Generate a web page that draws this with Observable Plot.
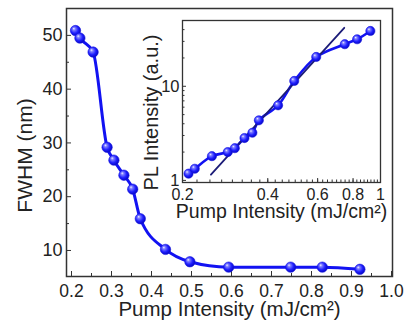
<!DOCTYPE html>
<html><head><meta charset="utf-8">
<script src="https://cdn.jsdelivr.net/npm/d3@7"></script>
<script src="https://cdn.jsdelivr.net/npm/@observablehq/plot@0.6"></script>
<style>
body{margin:0;background:#fff;}
#wrap{position:relative;width:408px;height:324px;}
#wrap > svg{position:absolute;left:0;top:0;}
</style></head><body>
<svg width="0" height="0" style="position:absolute">
<defs>
<radialGradient id="ball" cx="0.45" cy="0.45" r="0.6" fx="0.33" fy="0.3">
<stop offset="0" stop-color="#f4f4ff"/>
<stop offset="0.22" stop-color="#8080ff"/>
<stop offset="0.6" stop-color="#2020ff"/>
<stop offset="1" stop-color="#0000b8"/>
</radialGradient></defs></svg>
<div id="wrap"></div>
<script>
// Data
const pump = [0.21,0.221,0.254,0.289,0.306,0.331,0.353,0.372,0.435,0.496,0.593,0.748,0.827,0.921];
const fwhm = [50.9,49.5,46.9,29.2,26.8,24.0,21.4,15.9,10.2,7.9,6.9,6.9,6.9,6.5];
const plIntensity = [1.18,1.33,1.81,2.0,2.2,2.82,3.21,4.35,6.28,11.4,20.5,28.0,31.6,38.7];
const fitX = [0.252,0.745];
const fitY = [1.15,41.8];
const mainXTicks = [0.2,0.3,0.4,0.5,0.6,0.7,0.8,0.9,1.0];
const mainXMinor = [0.25,0.35,0.45,0.55,0.65,0.75,0.85,0.95];
const mainYTicks = [10,20,30,40,50];
const mainYMinor = [15,25,35,45];
const insetXTicks = [0.2,0.4,0.6,0.8,1];
const insetXMinor = d3.range(0.225,1.0,0.025);
const insetYTicks = [1,10];
const insetYMinor = [2,3,4,5,6,7,8,9,20,30,40,50];
const xLabel = "Pump Intensity (mJ/cm²)";
const yLabelMain = "FWHM (nm)";
const yLabelInset = "PL Intensity (a.u.)";

const font = "'Liberation Sans', Arial, sans-serif";
const ink = "#222";
const blue = "#1212f2";
const wrap = document.getElementById("wrap");

const main = Plot.plot({
  width:408, height:324, marginLeft:66, marginRight:16, marginTop:8, marginBottom:48,
  style:{fontFamily:font, color:ink, background:"transparent", overflow:"visible"},
  x:{domain:[0.1875,1.0025], label:null},
  y:{domain:[5.16,55], label:null},
  marks:[
    Plot.axisX({ticks:mainXMinor, tickSize:3, insetBottom:3, tickFormat:()=>"", stroke:"#333"}),
    Plot.axisX({ticks:mainXTicks, tickSize:5, insetBottom:5, tickFormat:()=>"", stroke:"#333"}),
    Plot.axisX({ticks:mainXTicks, tickSize:0, tickPadding:8, tickFormat:d=>d.toFixed(1), fontSize:17.5, fill:ink}),
    Plot.axisY({ticks:mainYMinor, tickSize:3, insetLeft:3, tickFormat:()=>"", stroke:"#333"}),
    Plot.axisY({ticks:mainYTicks, tickSize:5, insetLeft:5, tickFormat:()=>"", stroke:"#333"}),
    Plot.axisY({ticks:mainYTicks, tickSize:0, tickPadding:4, fontSize:18, fill:ink}),
    Plot.frame({stroke:"#333", strokeWidth:1.5}),
    Plot.text([xLabel], {text:d=>d, frameAnchor:"bottom", textAnchor:"middle", dy:32.5, lineAnchor:"middle", fontSize:20.5, fill:ink}),
    Plot.text([yLabelMain], {text:d=>d, frameAnchor:"left", textAnchor:"middle", lineAnchor:"middle", dx:-41, dy:13, rotate:-90, fontSize:21, fill:ink}),
    Plot.line(fwhm, {x:pump, y:fwhm, curve:"monotone-x", stroke:blue, strokeWidth:3}),
    Plot.dot(fwhm, {x:pump, y:fwhm, r:5.2, fill:"url(#ball)", stroke:"#1818e0", strokeWidth:0.6})
  ]
});
wrap.appendChild(main);

const inset = Plot.plot({
  width:408, height:324, marginLeft:182, marginRight:28, marginTop:20, marginBottom:142,
  style:{fontFamily:font, color:ink, background:"transparent", overflow:"visible"},
  x:{type:"log", domain:[0.2,1], label:null},
  y:{type:"log", domain:[0.95,50], label:null},
  marks:[
    Plot.frame({fill:"white", stroke:"none"}),
    Plot.axisX({ticks:insetXMinor, tickSize:2.5, insetBottom:2.5, tickFormat:()=>"", stroke:"#333"}),
    Plot.axisX({ticks:insetXTicks, tickSize:4, insetBottom:4, tickFormat:()=>"", stroke:"#333"}),
    Plot.axisX({ticks:insetXTicks, tickSize:0, tickPadding:6.5, tickFormat:d=>String(d), fontSize:16, fill:ink}),
    Plot.axisY({ticks:insetYMinor, tickSize:2.5, insetLeft:2.5, tickFormat:()=>"", stroke:"#333"}),
    Plot.axisY({ticks:insetYTicks, tickSize:4, insetLeft:4, tickFormat:()=>"", stroke:"#333"}),
    Plot.axisY({ticks:insetYTicks, tickSize:0, tickPadding:3, tickFormat:d=>String(d), fontSize:16.5, fill:ink}),
    Plot.frame({stroke:"#333", strokeWidth:1.3}),
    Plot.text([xLabel], {text:d=>d, frameAnchor:"bottom", textAnchor:"middle", dy:29, lineAnchor:"middle", fontSize:19.5, fill:ink}),
    Plot.text([yLabelInset], {text:d=>d, frameAnchor:"left", textAnchor:"middle", lineAnchor:"middle", dx:-31, dy:11, rotate:-90, fontSize:20, fill:ink}),
    Plot.line(plIntensity, {x:pump, y:plIntensity, curve:"catmull-rom", stroke:blue, strokeWidth:2.6}),
    Plot.line(fitY, {x:fitX, y:fitY, stroke:"#1c1c78", strokeWidth:1.8}),
    Plot.dot(plIntensity, {x:pump, y:plIntensity, r:4.6, fill:"url(#ball)", stroke:"#1818e0", strokeWidth:0.6})
  ]
});
wrap.appendChild(inset);
</script>
</body></html>
